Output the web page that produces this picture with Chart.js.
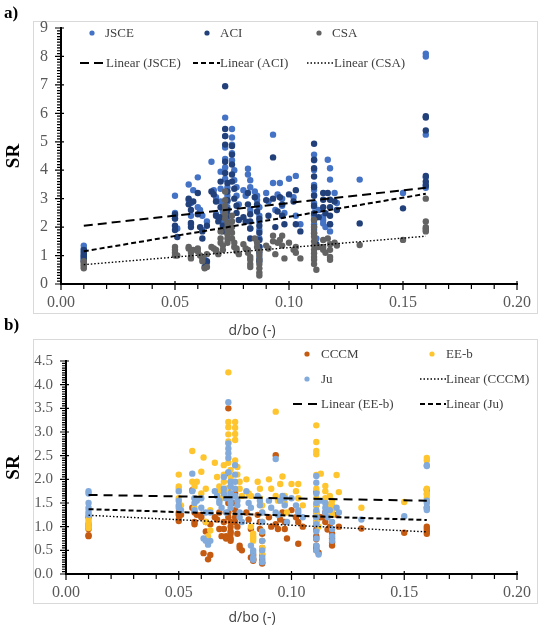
<!DOCTYPE html>
<html>
<head>
<meta charset="utf-8">
<script src="https://cdn.jsdelivr.net/npm/chart.js@4.4.0/dist/chart.umd.min.js"></script>
<style>
  body { margin: 0; background: #fff; }
  #wrap { position: relative; width: 543px; height: 632px; }
  #chartA { position: absolute; left: 0; top: 0; }
  #chartB { position: absolute; left: 0; top: 339px; }
</style>
</head>
<body>
<div id="wrap">
  <canvas id="chartA" width="543" height="339"></canvas>
  <canvas id="chartB" width="543" height="293"></canvas>
</div>
<script>
// d/bo of each specimen (shared by both panels)
const dbo = [
  0.010, 0.010, 0.010, 0.010, 0.010, 0.010,
  0.050, 0.050, 0.050, 0.050, 0.051,
  0.056, 0.056, 0.057, 0.057, 0.057, 0.058,
  0.060, 0.060, 0.061, 0.062, 0.062, 0.063, 0.064, 0.064,
  0.066, 0.067, 0.068, 0.068, 0.069, 0.070, 0.070, 0.070, 0.071, 0.071,
  0.072, 0.072, 0.072, 0.072, 0.072, 0.072, 0.073, 0.073, 0.073, 0.073, 0.073, 0.073,
  0.075, 0.075, 0.075, 0.075, 0.075, 0.076, 0.076, 0.077, 0.077, 0.078,
  0.080, 0.081, 0.082, 0.082, 0.083, 0.083, 0.083, 0.083,
  0.085, 0.086, 0.086, 0.087, 0.087, 0.087, 0.087, 0.087, 0.087, 0.087,
  0.090, 0.091, 0.093, 0.093, 0.094, 0.095, 0.096, 0.097, 0.097, 0.098,
  0.100, 0.102, 0.103, 0.103, 0.105,
  0.111, 0.111, 0.111, 0.111, 0.111, 0.111, 0.111, 0.111, 0.111, 0.111, 0.111, 0.112,
  0.113, 0.115, 0.115, 0.115, 0.116, 0.117, 0.118, 0.118, 0.118, 0.118, 0.120, 0.121,
  0.131,
  0.150,
  0.160, 0.160, 0.160, 0.160, 0.160, 0.160
];

// panel a) SR
const srJSCE = [
  1.35, 1.25, 1.15, 1.05, 0.95, 0.90,
  3.10, 2.50, 2.40, 2.30, 1.95,
  3.50, 2.95, 2.85, 2.40, 2.10, 3.30,
  3.75, 2.70, 2.60, 2.40, 1.90, 0.85, 0.75, 2.20,
  4.30, 3.30, 3.05, 2.45, 2.35, 3.95, 3.35, 2.90, 2.55, 2.20,
  5.85, 5.20, 4.80, 4.40, 4.10, 3.70, 3.40, 3.10, 2.90, 2.70, 2.45, 2.25,
  5.45, 5.15, 4.90, 4.60, 4.35, 4.00, 3.65, 3.40, 3.10, 2.80,
  3.30, 3.10, 4.05, 3.85, 3.65, 3.40, 2.60, 1.95,
  3.25, 3.10, 2.95, 2.70, 2.40, 2.20, 1.90, 1.60, 1.30, 0.90,
  3.20, 2.90, 5.25, 3.55, 2.60, 3.15, 3.55, 3.00, 2.75, 2.50,
  3.70, 3.05, 3.80, 2.40, 2.10,
  4.55, 4.35, 4.01, 3.48, 3.31, 3.13, 2.84, 2.72, 2.40, 2.10, 1.90, 1.60,
  2.60, 2.37, 2.25, 2.13, 2.00, 4.37, 4.07, 3.67, 2.10, 1.85, 3.20, 2.85,
  3.67,
  3.20,
  8.10, 8.00, 5.25, 3.75, 3.50, 3.38
];
const srACI = [
  1.20, 1.10, 1.00, 0.95, 0.85, 0.80,
  2.45, 2.30, 2.05, 1.90, 1.65,
  3.00, 2.80, 2.60, 2.15, 2.00, 2.90,
  3.20, 2.45, 2.00, 1.85, 1.60, 0.60, 0.80, 2.05,
  3.25, 3.15, 2.90, 2.40, 2.20, 3.60, 2.70, 2.35, 2.05, 1.85,
  6.95, 5.45, 5.20, 4.90, 4.30, 3.90, 3.55, 3.25, 2.95, 2.60, 2.40, 2.10,
  4.85, 4.55, 4.20, 3.85, 3.60, 3.35, 3.00, 2.75, 2.50, 2.25,
  2.35, 2.20, 3.20, 2.80, 2.45, 2.20, 1.95, 1.60,
  3.05, 2.80, 2.55, 2.30, 2.05, 1.80, 1.55, 1.30, 1.10, 0.80,
  2.95, 2.40, 4.45, 3.00, 2.00, 2.55, 3.05, 2.80, 2.40, 2.10,
  3.15, 2.90, 3.30, 2.10, 1.85,
  4.93, 4.37, 4.07, 3.78, 3.40, 3.10, 2.75, 2.49, 2.25, 2.00, 1.78, 1.40,
  2.35, 3.20, 2.96, 2.70, 2.49, 3.20, 2.96, 2.70, 2.40, 2.10, 2.90, 2.60,
  2.13,
  2.66,
  5.90, 5.85, 5.40, 3.80, 3.60, 3.45
];
const srCSA = [
  0.80, 0.75, 0.70, 0.65, 0.60, 0.55,
  1.30, 1.20, 1.10, 1.00, 1.00,
  1.25, 1.30, 1.10, 0.95, 0.90, 1.20,
  1.25, 1.15, 1.00, 0.90, 0.80, 0.55, 0.60, 1.05,
  1.30, 1.25, 1.20, 1.15, 1.05, 1.85, 1.60, 1.45, 1.35, 1.20,
  3.25, 2.95, 2.75, 2.60, 2.45, 2.30, 2.15, 2.00, 1.90, 1.75, 1.60, 1.45,
  2.40, 2.20, 2.00, 1.80, 1.60, 1.45, 1.30, 1.25, 1.15, 1.05,
  1.40, 1.25, 1.20, 1.10, 0.95, 0.85, 0.70, 0.60,
  1.60, 1.45, 1.30, 1.15, 1.00, 0.85, 0.70, 0.55, 0.40, 0.30,
  1.35, 1.25, 1.70, 1.50, 1.05, 1.45, 1.55, 1.70, 1.35, 0.90,
  1.45, 1.20, 1.30, 1.10, 0.90,
  2.25, 2.00, 1.80, 1.66, 1.50, 1.35, 1.20, 1.08, 0.95, 0.85, 0.70, 0.50,
  1.30, 1.55, 1.30, 1.20, 1.10, 1.60, 1.40, 1.20, 0.95, 0.85, 1.45, 1.35,
  1.37,
  1.55,
  3.00, 2.20, 2.00, 1.95, 1.90, 1.85
];

// panel b) SR
const srCCCM = [
  1.20, 1.05, 1.00, 0.95, 0.82, 0.80,
  1.30, 1.25, 1.15, 1.12, 1.25,
  1.40, 1.77, 1.30, 1.10, 1.05, 1.25,
  1.25, 1.20, 0.44, 1.10, 0.90, 0.31, 0.40, 1.05,
  1.20, 1.15, 1.30, 0.95, 0.80, 1.75, 1.10, 0.95, 0.80, 0.75,
  3.50, 2.13, 1.80, 1.50, 1.30, 1.20, 1.10, 1.00, 0.90, 0.85, 0.75, 0.70,
  1.70, 1.50, 1.35, 1.20, 1.10, 1.00, 0.85, 0.60, 0.55, 0.50,
  1.30, 1.15, 0.95, 0.35, 0.30, 0.28, 0.32, 0.40,
  1.25, 1.10, 0.95, 0.85, 0.70, 0.55, 0.40, 0.30, 0.25, 0.22,
  1.20, 1.00, 2.51, 1.05, 0.95, 1.15, 1.30, 1.10, 0.95, 0.75,
  1.35, 1.20, 0.64, 1.10, 1.00,
  1.73, 1.45, 1.30, 1.20, 1.10, 0.94, 0.80, 0.74, 0.60, 0.55, 0.50, 0.45,
  1.20, 1.30, 1.20, 1.10, 0.94, 1.00, 0.85, 0.75, 0.67, 0.60, 1.25, 1.00,
  0.96,
  0.87,
  1.78, 1.40, 1.00, 0.95, 0.90, 0.85
];
const srEEb = [
  1.35, 1.15, 1.10, 1.05, 1.00, 0.97,
  2.10, 1.85, 1.80, 1.60, 1.45,
  2.60, 1.95, 1.85, 1.60, 1.40, 1.95,
  2.16, 1.70, 2.46, 1.80, 1.10, 0.80, 0.92, 1.35,
  2.35, 2.05, 1.85, 1.75, 1.60, 2.30, 2.10, 1.95, 1.80, 1.70,
  4.26, 3.21, 3.10, 2.95, 2.80, 2.35, 2.20, 2.05, 1.95, 1.85, 1.70, 1.60,
  3.21, 3.09, 2.96, 2.83, 2.40, 2.26, 2.10, 1.95, 1.80, 1.65,
  2.00, 1.70, 1.65, 1.00, 0.85, 0.80, 0.75, 0.70,
  1.95, 1.80, 1.60, 1.45, 1.30, 1.10, 0.90, 0.70, 0.55, 0.45,
  2.00, 1.80, 3.43, 1.65, 1.55, 1.90, 2.06, 1.65, 1.50, 1.30,
  1.90, 1.75, 1.90, 1.60, 1.45,
  3.14, 2.79, 2.60, 2.53, 2.09, 1.80, 1.60, 1.45, 1.30, 1.20, 1.10, 1.00,
  2.12, 1.86, 1.75, 1.60, 1.47, 1.65, 1.55, 1.45, 1.35, 1.25, 2.09, 1.73,
  1.40,
  1.52,
  2.45, 2.40, 1.80, 1.70, 1.68, 1.60
];
const srJu = [
  1.75, 1.70, 1.50, 1.40, 1.30, 1.25,
  1.75, 1.55, 1.45, 1.40, 1.35,
  2.12, 1.75, 1.60, 1.50, 1.35, 1.55,
  1.60, 1.40, 0.75, 1.30, 0.70, 0.62, 0.70, 1.30,
  1.75, 1.65, 1.55, 1.50, 1.40, 2.05, 1.80, 1.70, 1.60, 1.30,
  3.63, 2.76, 2.65, 2.55, 2.45, 2.15, 1.95, 1.85, 1.70, 1.60, 1.50, 1.40,
  2.30, 2.10, 1.95, 1.80, 1.65, 1.55, 1.45, 1.30, 1.20, 1.10,
  1.75, 1.50, 1.40, 0.60, 0.45, 0.35, 0.30, 0.50,
  1.65, 1.55, 1.45, 1.30, 1.10, 0.90, 0.70, 0.50, 0.35, 0.25,
  1.55, 1.40, 2.43, 1.30, 1.25, 1.55, 1.65, 1.60, 1.45, 1.10,
  1.60, 1.45, 1.35, 1.30, 1.20,
  2.07, 1.93, 1.70, 1.50, 1.35, 1.20, 1.05, 0.90, 0.75, 0.60, 0.50, 0.41,
  1.55, 1.50, 1.40, 1.30, 1.20, 1.35, 1.10, 0.95, 0.80, 0.70, 1.40, 1.30,
  1.15,
  1.22,
  2.30, 2.28, 1.55, 1.50, 1.40, 1.35
];

// linear trendlines, read at the ends of the data range
const trendX = [0.01, 0.16];
const trendJSCE = [2.05, 3.38];
const trendACI = [1.15, 3.17];
const trendCSA = [0.68, 1.68];
const trendCCCM = [1.24, 0.89];
const trendEEb = [1.67, 1.55];
const trendJu = [1.37, 1.14];

const xTicks = [0, 0.05, 0.10, 0.15, 0.20];

function pts(ys) {
  return dbo.map((x, i) => ({ x: x, y: ys[i] }));
}
function trendPts(ys) {
  return trendX.map((x, i) => ({ x: x, y: ys[i] }));
}
function scatterSet(label, ys, color, order) {
  return {
    label: label, data: pts(ys), backgroundColor: color, borderColor: color,
    pointRadius: 3.2, pointBorderWidth: 0, pointHoverRadius: 3.2, order: order
  };
}
function trendSet(label, ys, dash, width) {
  return {
    label: label, data: trendPts(ys), showLine: true, borderColor: '#000',
    backgroundColor: '#000', borderWidth: width, borderDash: dash, pointRadius: 0, order: 0
  };
}

// frame, minor ticks, legend and labels drawn on top of the chart
function decor(cfg) {
  return {
    id: 'decor',
    beforeDraw(chart) {
      const ctx = chart.ctx;
      const b = cfg.box;
      ctx.save();
      ctx.strokeStyle = '#d9d9d9';
      ctx.lineWidth = 1;
      ctx.strokeRect(b[0] + 0.5, b[1] + 0.5, b[2] - b[0], b[3] - b[1]);
      ctx.restore();
    },
    afterDraw(chart) {
      const ctx = chart.ctx;
      const xs = chart.scales.x, ys = chart.scales.y, area = chart.chartArea;
      ctx.save();
      ctx.strokeStyle = '#000';
      ctx.lineWidth = 1.2;
      ctx.beginPath();
      const nx = Math.round((xs.max - xs.min) / cfg.xMinor);
      for (let i = 0; i <= nx; i++) {
        const px = xs.getPixelForValue(xs.min + i * cfg.xMinor);
        const major = i % cfg.xEvery === 0;
        ctx.moveTo(px, area.bottom - (major ? 3 : 0));
        ctx.lineTo(px, area.bottom + (major ? 6 : 5));
      }
      const ny = Math.round((ys.max - ys.min) / cfg.yMinor);
      for (let i = 0; i <= ny; i++) {
        const py = ys.getPixelForValue(ys.min + i * cfg.yMinor);
        const major = i % cfg.yEvery === 0;
        ctx.moveTo(area.left - (major ? 6 : 4), py);
        ctx.lineTo(area.left + (major ? 3 : 0), py);
      }
      ctx.stroke();

      // legend
      ctx.font = '13px "Liberation Serif"';
      ctx.textBaseline = 'middle';
      ctx.textAlign = 'left';
      cfg.legend.forEach(it => {
        const ds = chart.data.datasets[it.ds];
        if (ds.showLine) {
          ctx.save();
          ctx.strokeStyle = ds.borderColor;
          ctx.lineWidth = ds.borderWidth;
          ctx.setLineDash(ds.borderDash);
          ctx.beginPath();
          ctx.moveTo(it.x0, it.y);
          ctx.lineTo(it.x1, it.y);
          ctx.stroke();
          ctx.restore();
        } else {
          ctx.fillStyle = ds.backgroundColor;
          ctx.beginPath();
          ctx.arc(it.x0, it.y, 2.6, 0, Math.PI * 2);
          ctx.fill();
        }
        ctx.fillStyle = '#404040';
        ctx.fillText(ds.label, it.tx, it.y + 1);
      });

      // panel tags and axis title
      ctx.fillStyle = '#000';
      ctx.font = 'bold 17px "Liberation Serif"';
      cfg.tags.forEach(t => ctx.fillText(t[0], t[1], t[2]));
      ctx.fillStyle = '#404040';
      ctx.font = '14px "Open Sans"';
      ctx.textAlign = 'center';
      ctx.fillText('d/bo (-)', cfg.xTitle[0], cfg.xTitle[1]);
      ctx.restore();
    }
  };
}

function makeOptions(o) {
  return {
    responsive: false,
    animation: false,
    layout: { padding: { top: o.top, right: 26, left: 0, bottom: 0 } },
    plugins: { legend: { display: false }, tooltip: { enabled: false } },
    scales: {
      x: {
        type: 'linear', min: 0, max: 0.2,
        afterFit: s => { s.height = o.xHeight; },
        afterBuildTicks: s => { s.ticks = xTicks.map(v => ({ value: v })); },
        grid: { display: false, drawTicks: false },
        border: { color: '#000', width: 2 },
        ticks: {
          padding: 9, color: '#595959', maxRotation: 0, autoSkip: false,
          font: { family: 'Liberation Serif', size: 16 },
          callback: v => Number(v).toFixed(2)
        }
      },
      y: {
        type: 'linear', min: 0, max: o.yMax,
        afterFit: s => { s.width = o.yWidth; },
        grid: { display: false, drawTicks: false },
        border: { color: '#000', width: 2 },
        title: {
          display: true, text: 'SR', color: '#000', padding: { top: 3, bottom: 0 },
          font: { family: 'Liberation Serif', size: 19, weight: 'bold' }
        },
        ticks: {
          stepSize: o.yStep, padding: 13, color: '#595959',
          font: { family: 'Liberation Serif', size: o.yFont },
          callback: v => o.yStep < 1 ? Number(v).toFixed(1) : String(v)
        }
      }
    }
  };
}

new Chart(document.getElementById('chartA'), {
  type: 'scatter',
  data: {
    datasets: [
      scatterSet('JSCE', srJSCE, '#4472C4', 3),
      scatterSet('ACI', srACI, '#22407A', 2),
      scatterSet('CSA', srCSA, '#636363', 1),
      trendSet('Linear (JSCE)', trendJSCE, [9, 5], 2),
      trendSet('Linear (ACI)', trendACI, [5, 3], 2),
      trendSet('Linear (CSA)', trendCSA, [1.5, 2], 1.4)
    ]
  },
  options: makeOptions({ top: 28, xHeight: 55, yWidth: 61, yMax: 9, yStep: 1, yFont: 16 }),
  plugins: [decor({
    box: [33, 21, 537, 313], xMinor: 0.01, xEvery: 5, yMinor: 0.1, yEvery: 10,
    tags: [['a)', 4, 14], ['b)', 4, 326]], xTitle: [252, 331],
    legend: [
      { ds: 0, x0: 92, tx: 105, y: 33 },
      { ds: 1, x0: 207, tx: 220, y: 33 },
      { ds: 2, x0: 319, tx: 332, y: 33 },
      { ds: 3, x0: 80, x1: 103, tx: 106, y: 63 },
      { ds: 4, x0: 193, x1: 220, tx: 220, y: 63 },
      { ds: 5, x0: 307, x1: 334, tx: 334, y: 63 }
    ]
  })]
});

new Chart(document.getElementById('chartB'), {
  type: 'scatter',
  data: {
    datasets: [
      scatterSet('CCCM', srCCCM, '#C55A11', 3),
      scatterSet('EE-b', srEEb, '#FFC52F', 2),
      scatterSet('Ju', srJu, '#82AADB', 1),
      trendSet('Linear (CCCM)', trendCCCM, [1.5, 2], 1.4),
      trendSet('Linear (EE-b)', trendEEb, [9, 6], 2),
      trendSet('Linear (Ju)', trendJu, [5, 3], 2)
    ]
  },
  options: makeOptions({ top: 9, xHeight: 58, yWidth: 66, yMax: 4.5, yStep: 0.5, yFont: 15 }),
  plugins: [decor({
    box: [33, 0, 537, 264], xMinor: 0.01, xEvery: 5, yMinor: 0.05, yEvery: 10,
    tags: [], xTitle: [252, 279],
    legend: [
      { ds: 0, x0: 307, tx: 321, y: 15 },
      { ds: 1, x0: 432, tx: 446, y: 15 },
      { ds: 2, x0: 307, tx: 321, y: 40 },
      { ds: 3, x0: 420, x1: 446, tx: 446, y: 40 },
      { ds: 4, x0: 293, x1: 317, tx: 321, y: 65 },
      { ds: 5, x0: 420, x1: 446, tx: 446, y: 65 }
    ]
  })]
});
</script>
</body>
</html>
